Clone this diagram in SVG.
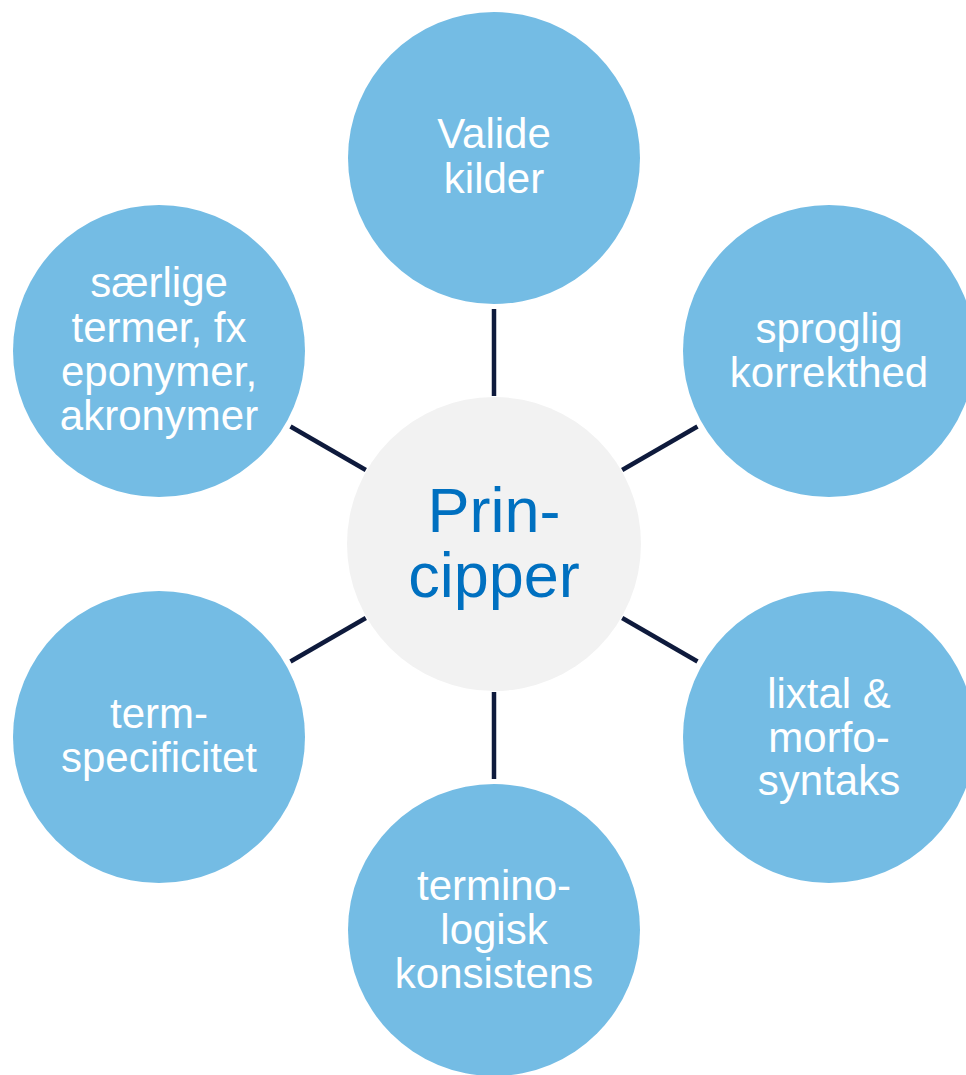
<svg xmlns="http://www.w3.org/2000/svg" width="966" height="1075" viewBox="0 0 966 1075">
<style>
.c{fill:#74BCE4}
.t{font-family:"Liberation Sans",Arial,sans-serif;font-size:42px;fill:#FFFFFF;text-anchor:middle}
.m{font-family:"Liberation Sans",Arial,sans-serif;font-size:63px;fill:#0070C0;text-anchor:middle}
.l{stroke:#0E1A3C;stroke-width:4.5;fill:none}
</style>
<rect width="966" height="1075" fill="#FFFFFF"/>
<g id="connectors">
<line class="l" x1="494" y1="396" x2="494" y2="309"/>
<line class="l" x1="622.2" y1="470" x2="697.5" y2="426.5"/>
<line class="l" x1="622.2" y1="618" x2="697.5" y2="661.5"/>
<line class="l" x1="494" y1="692" x2="494" y2="779"/>
<line class="l" x1="365.8" y1="618" x2="290.5" y2="661.5"/>
<line class="l" x1="365.8" y1="470" x2="290.5" y2="426.5"/>
</g>
<g id="center">
<circle cx="494" cy="544" r="147" fill="#F2F2F2"/>
<text class="m" x="494" y="532">Prin-</text>
<text class="m" x="494" y="597">cipper</text>
</g>
<g id="valide">
<circle class="c" cx="494" cy="158" r="146"/>
<text class="t" x="494" y="148">Valide</text>
<text class="t" x="494" y="193">kilder</text>
</g>
<g id="sproglig">
<circle class="c" cx="829" cy="351" r="146"/>
<text class="t" x="829" y="343">sproglig</text>
<text class="t" x="829" y="387">korrekthed</text>
</g>
<g id="lixtal">
<circle class="c" cx="829" cy="737" r="146"/>
<text class="t" x="829" y="708">lixtal &amp;</text>
<text class="t" x="829" y="752">morfo-</text>
<text class="t" x="829" y="795">syntaks</text>
</g>
<g id="terminologisk">
<circle class="c" cx="494" cy="930" r="146"/>
<text class="t" x="494" y="900">termino-</text>
<text class="t" x="494" y="944">logisk</text>
<text class="t" x="494" y="988">konsistens</text>
</g>
<g id="termspecificitet">
<circle class="c" cx="159" cy="737" r="146"/>
<text class="t" x="159" y="728">term-</text>
<text class="t" x="159" y="772">specificitet</text>
</g>
<g id="saerlige">
<circle class="c" cx="159" cy="351" r="146"/>
<text class="t" x="159" y="297">særlige</text>
<text class="t" x="159" y="342">termer, fx</text>
<text class="t" x="159" y="386">eponymer,</text>
<text class="t" x="159" y="430">akronymer</text>
</g>
</svg>
